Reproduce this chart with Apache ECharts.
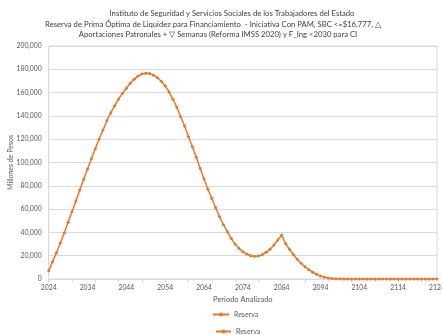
<!DOCTYPE html>
<html>
<head>
<meta charset="utf-8">
<script src="https://cdn.jsdelivr.net/npm/echarts@6/dist/echarts.min.js"></script>
<style>
  html, body { margin: 0; padding: 0; background: #fff; }
  #chart { width: 442px; height: 335px; }
</style>
</head>
<body>
<div id="chart"></div>
<script>
// Years analysed
const years = [];
for (let y = 2024; y <= 2124; y++) years.push(String(y));

// Reserve (millions of pesos), one value per year 2024..2124
const reserva = [
  7000, 14900, 22600, 30900, 39500, 48700, 57800, 67000, 76400, 85600,
  94400, 103300, 111900, 120200, 128000, 135900, 142800, 148800, 154500, 159400,
  163700, 168000, 171400, 174200, 175900, 176600, 176300, 175000, 172800, 169800,
  165800, 160600, 154200, 147400, 139300, 131300, 122100, 113600, 104500, 95000,
  85800, 77000, 69300, 61200, 53500, 46600, 40600, 34900, 30000, 26300,
  23400, 21500, 20000, 19500, 19700, 20900, 22900, 25500, 29200, 33500,
  37800, 30500, 25500, 21000, 17000, 13500, 10500, 8000, 5800, 4000,
  2600, 1600, 900, 500, 300, 150, 80, 0, 0, 0,
  0, 0, 0, 0, 0, 0, 0, 0, 0, 0,
  0, 0, 0, 0, 0, 0, 0, 0, 0, 0,
  0
];

const titleLines = [
  'Instituto de Seguridad y Servicios Sociales de los Trabajadores del Estado',
  'Reserva de Prima Óptima de Liquidez para Financiamiento  - Iniciativa Con PAM, SBC <=$16,777, △',
  'Aportaciones Patronales + ▽ Semanas (Reforma IMSS 2020) y F_Ing <2030 para CI'
];

const FONT = 'Lato, "Liberation Sans", sans-serif';
const TXT = '#595959';
const ORANGE = '#E8772E';

const chart = echarts.init(document.getElementById('chart'), null, { renderer: 'canvas' });

const titleStyle = { fontSize: 7.7, fontWeight: 'normal', color: '#404040', fontFamily: FONT };

chart.setOption({
  animation: false,
  textStyle: { fontFamily: FONT },
  title: [
    { text: titleLines[0], left: 227, top: 5, textAlign: 'center', textStyle: titleStyle },
    { text: titleLines[1], left: 208, top: 15.5, textAlign: 'center', textStyle: titleStyle },
    { text: titleLines[2], left: 213, top: 26, textAlign: 'center', textStyle: titleStyle }
  ],
  legend: [
    { data: ['Reserva'], orient: 'vertical', left: 207, top: 306,
      itemWidth: 16, itemHeight: 5, itemGap: 2,
      textStyle: { fontSize: 7, color: TXT, fontFamily: FONT } },
    { data: ['Reserva'], orient: 'vertical', left: 210, top: 323,
      itemWidth: 15, itemHeight: 5, itemGap: 2,
      textStyle: { fontSize: 7, color: TXT, fontFamily: FONT } }
  ],
  grid: {
    left: 48.7, right: 5, top: 46, bottom: 56,
    containLabel: false, outerBoundsMode: 'none',
    show: true, borderColor: '#D9D9D9', borderWidth: 1
  },
  xAxis: {
    type: 'category',
    data: years,
    boundaryGap: false,
    name: 'Periodo Analizado',
    nameLocation: 'middle',
    nameGap: 17,
    nameMoveOverlap: false,
    nameTextStyle: { fontSize: 7.5, color: TXT, fontFamily: FONT },
    axisLine: { lineStyle: { color: '#D9D9D9' } },
    axisTick: { interval: 5, length: 3, lineStyle: { color: '#D9D9D9' } },
    axisLabel: { interval: 9, fontSize: 6.8, color: TXT, margin: 5, fontFamily: FONT },
    splitLine: { show: false }
  },
  yAxis: {
    type: 'value',
    min: 0, max: 200000, interval: 20000,
    name: 'Millones de Pesos',
    nameLocation: 'middle',
    nameGap: 34,
    nameMoveOverlap: false,
    nameTextStyle: { fontSize: 7, color: TXT, fontFamily: FONT },
    axisLine: { show: true, lineStyle: { color: '#D9D9D9' } },
    axisTick: { show: false },
    axisLabel: {
      fontSize: 6.8, color: TXT, margin: 7, fontFamily: FONT,
      formatter: v => v.toLocaleString('en-US')
    },
    splitLine: { lineStyle: { color: '#D9D9D9', width: 1 } }
  },
  series: [{
    name: 'Reserva',
    type: 'line',
    data: reserva,
    smooth: false,
    symbol: 'circle',
    symbolSize: 3,
    showAllSymbol: true,
    itemStyle: { color: ORANGE },
    lineStyle: { color: ORANGE, width: 1.5 }
  }]
});
</script>
</body>
</html>
